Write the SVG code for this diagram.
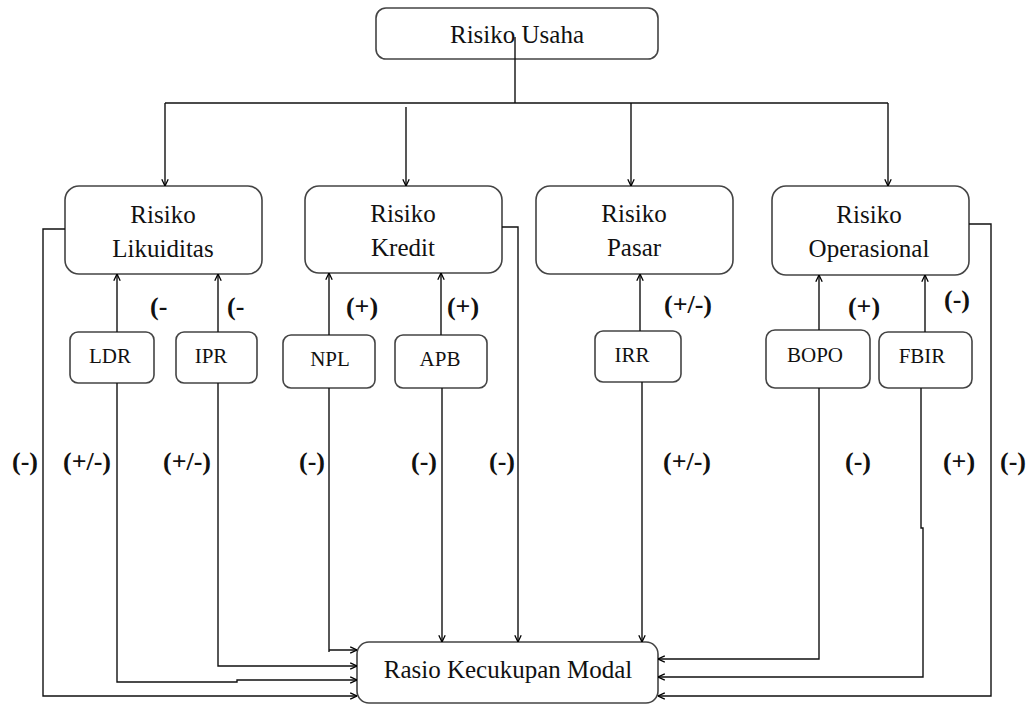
<svg xmlns="http://www.w3.org/2000/svg" width="1030" height="704" viewBox="0 0 1030 704">
<defs>
<marker id="ah" viewBox="0 0 10 10" refX="9.5" refY="5" markerWidth="8" markerHeight="8" markerUnits="userSpaceOnUse" orient="auto">
<path d="M1,1 L9.5,5 L1,9" fill="none" stroke="#000" stroke-width="1.6"/>
</marker>
<style>
.box{fill:#fff;stroke:#444;stroke-width:1.6}
text{font-family:'Liberation Serif','Times New Roman','DejaVu Serif',serif;fill:#111;text-anchor:middle}
.t{font-size:25px}
.s{font-size:21px}
.l{font-size:26px;font-weight:bold}
.c{fill:none;stroke:#111;stroke-width:1.4}
.a{marker-end:url(#ah)}
</style>
</defs>
<rect width="1030" height="704" fill="#fff"/>

<g id="risiko-usaha"><rect class="box" x="376" y="8" width="282" height="51" rx="10"/><text class="t" x="517" y="43" font-family="Liberation Serif, serif">Risiko Usaha</text></g>

<g id="risiko-likuiditas"><rect class="box" x="65" y="186" width="197" height="88" rx="14"/><text class="t" x="163" y="223">Risiko</text><text class="t" x="163" y="257">Likuiditas</text></g>
<g id="risiko-kredit"><rect class="box" x="305" y="186" width="197" height="87" rx="14"/><text class="t" x="403" y="222">Risiko</text><text class="t" x="403" y="256">Kredit</text></g>
<g id="risiko-pasar"><rect class="box" x="536" y="186" width="197" height="88" rx="14"/><text class="t" x="634" y="222">Risiko</text><text class="t" x="634" y="256">Pasar</text></g>
<g id="risiko-operasional"><rect class="box" x="772" y="186" width="197" height="89" rx="14"/><text class="t" x="869" y="223">Risiko</text><text class="t" x="869" y="257">Operasional</text></g>

<g id="ldr"><rect class="box" x="70" y="332" width="84" height="51" rx="8"/><text class="s" x="110" y="363">LDR</text></g>
<g id="ipr"><rect class="box" x="176" y="332" width="81" height="51" rx="8"/><text class="s" x="211" y="363">IPR</text></g>
<g id="npl"><rect class="box" x="283" y="335" width="92" height="53" rx="8"/><text class="s" x="330" y="366">NPL</text></g>
<g id="apb"><rect class="box" x="395" y="335" width="92" height="53" rx="8"/><text class="s" x="440" y="366">APB</text></g>
<g id="irr"><rect class="box" x="595" y="331" width="86" height="51" rx="8"/><text class="s" x="632" y="362">IRR</text></g>
<g id="bopo"><rect class="box" x="766" y="330" width="104" height="58" rx="9"/><text class="s" x="815" y="362">BOPO</text></g>
<g id="fbir"><rect class="box" x="879" y="332" width="93" height="56" rx="9"/><text class="s" x="922" y="363">FBIR</text></g>

<g id="rasio-kecukupan-modal"><rect class="box" x="357" y="642" width="301" height="61" rx="12"/><text class="t" x="508" y="678">Rasio Kecukupan Modal</text></g>

<g id="connectors">
<path class="c" d="M515,37 V103 M165,103 H888"/>
<path class="c a" d="M165,103 V186"/>
<path class="c a" d="M406,107 V186"/>
<path class="c a" d="M631,103 V186"/>
<path class="c a" d="M888,103 V186"/>

<path class="c a" d="M117,332 V274"/>
<path class="c a" d="M218,332 V274"/>
<path class="c a" d="M329,335 V273"/>
<path class="c a" d="M441,335 V273"/>
<path class="c a" d="M640,331 V274"/>
<path class="c a" d="M819,330 V275"/>
<path class="c a" d="M925,332 V275"/>

<path class="c a" d="M65,229 H43 V696 H357"/>
<path class="c a" d="M117,383 V682 H237 V680 H357"/>
<path class="c a" d="M218,383 V666 H357"/>
<path class="c a" d="M329,388 V652 M329,650 H357"/>
<path class="c a" d="M442,388 V642"/>
<path class="c a" d="M502,227 H518 V642"/>
<path class="c a" d="M642,382 V642"/>
<path class="c a" d="M819,388 V659 H658"/>
<path class="c a" d="M921,388 V528 H923 V677 H658"/>
<path class="c a" d="M969,224 H991 V696 H658"/>
</g>

<g id="labels">
<text class="l" x="150" y="315" style="text-anchor:start">(-</text>
<text class="l" x="227" y="315" style="text-anchor:start">(-</text>
<text class="l" x="362" y="315">(+)</text>
<text class="l" x="463" y="315">(+)</text>
<text class="l" x="688" y="313">(+/-)</text>
<text class="l" x="864" y="315">(+)</text>
<text class="l" x="957" y="308">(-)</text>

<text class="l" x="25" y="470">(-)</text>
<text class="l" x="87" y="470">(+/-)</text>
<text class="l" x="187" y="470">(+/-)</text>
<text class="l" x="312" y="470">(-)</text>
<text class="l" x="424" y="470">(-)</text>
<text class="l" x="502" y="470">(-)</text>
<text class="l" x="687" y="470">(+/-)</text>
<text class="l" x="858" y="470">(-)</text>
<text class="l" x="959" y="470">(+)</text>
<text class="l" x="1013" y="470">(-)</text>
</g>
</svg>
